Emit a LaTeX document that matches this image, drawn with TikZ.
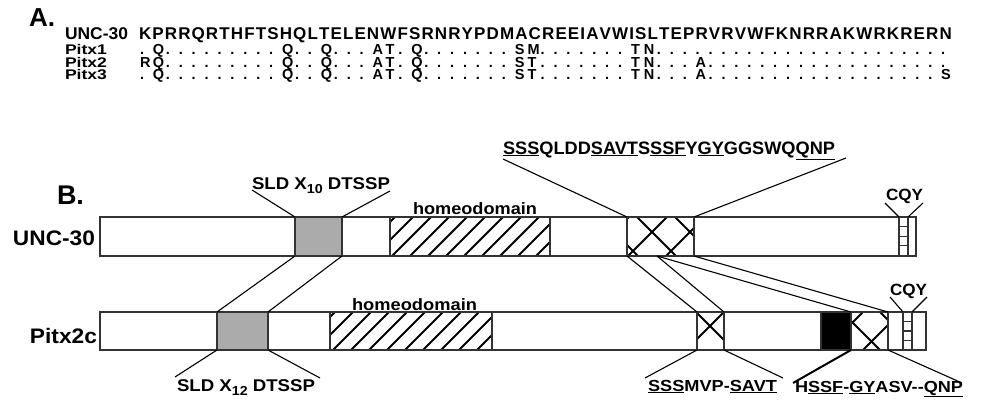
\documentclass[tikz,border=0pt]{standalone}
\usepackage{fontspec}
\setmainfont{Liberation Sans}
\newcommand\md{\bfseries}
\usepackage{graphicx}
\usetikzlibrary{calc}

\newcommand\seqtopfont{\md\fontsize{17}{17}\selectfont}
\newcommand\fitw[3]{\resizebox{#1}{\height}{\fontsize{#2}{#2}\selectfont #3}}

\ExplSyntaxOn
\box_new:N \l__sq_box
\dim_new:N \l__sq_sum_dim
\dim_new:N \l__sq_extra_dim
\tl_new:N \l__sq_top_tl
\tl_new:N \l__sq_row_tl
% top row: proportional letters, spread to a given total width
\NewDocumentCommand \seqtop { m m }
  {
    \tl_set:Nx \l__sq_top_tl {#1}
    \dim_zero:N \l__sq_sum_dim
    \int_step_inline:nn { \tl_count:N \l__sq_top_tl }
      {
        \hbox_set:Nn \l__sq_box { \seqtopfont \tl_item:Nn \l__sq_top_tl {##1} }
        \dim_add:Nn \l__sq_sum_dim { \box_wd:N \l__sq_box }
      }
    \dim_set:Nn \l__sq_extra_dim { ( #2 - \l__sq_sum_dim ) / \tl_count:N \l__sq_top_tl }
    \int_step_inline:nn { \tl_count:N \l__sq_top_tl }
      {
        \hbox_set:Nn \l__sq_box { \seqtopfont \tl_item:Nn \l__sq_top_tl {##1} }
        \hbox_to_wd:nn { \box_wd:N \l__sq_box + \l__sq_extra_dim }
          { \box_use:N \l__sq_box \hfil }
      }
  }
% lower rows: equal cells
\NewDocumentCommand \seqcells { m m }
  {
    \tl_set:Nx \l__sq_row_tl {#1}
    \int_step_inline:nn { \tl_count:N \l__sq_row_tl }
      {
        \hbox_to_wd:nn { ( #2 ) / \tl_count:N \l__sq_row_tl }
          { \tl_item:Nn \l__sq_row_tl {##1} \hfil }
      }
  }
\ExplSyntaxOff

\def\topseq{KPRRQRTHFTSHQLTELENWFSRNRYPDMACREEIAVWISLTEPRVRVWFKNRRAKWRKRERN}
\def\pone{.Q.........Q..Q...AT.Q.......SM.......TN.......................}
\def\ptwo{RQ.........Q..Q...AT.Q.......ST.......TN...A...................}
\def\pthree{.Q.........Q..Q...AT.Q.......ST.......TN...A..................S}

\tikzset{
  barbox/.style={draw=black!80, line width=1.2pt, fill=white, inner sep=0pt, outer sep=0pt, anchor=north west},
  segline/.style={draw=black!80, line width=1.2pt},
  conn/.style={line width=1.1pt, black},
  lbl/.style={inner sep=0pt, outer sep=0pt},
  hatchline/.style={line width=1.8pt, black},
  crossline/.style={line width=1.8pt, black},
  rowfont/.style={font=\md\fontsize{14.5}{14.5}\selectfont},
}

\begin{document}
\begin{tikzpicture}[x=1pt,y=-1pt]
\fill[white] (0,0) rectangle (985,404);
\useasboundingbox (0,0) rectangle (985,404);

% ---------------- Part A ----------------
\node[lbl, anchor=base west] (lblA) at (29,27) {\fontsize{26}{26}\selectfont\bfseries A.};
\node[lbl, anchor=base west] (aunc) at (65,39.5) {\fitw{63pt}{17}{\md UNC-30}};
\node[lbl, anchor=base west] (ap1) at (65,54.5) {\fitw{42pt}{14}{\md Pitx1}};
\node[lbl, anchor=base west] (ap2) at (65,67.2) {\fitw{42pt}{14}{\md Pitx2}};
\node[lbl, anchor=base west] (ap3) at (65,80) {\fitw{42pt}{14}{\md Pitx3}};
\node[lbl, anchor=base west] (s0) at (139,39.5) {\seqtopfont\seqtop{\topseq}{814pt}};
\node[lbl, rowfont, anchor=base west] (s1) at (140,54.5) {\seqcells{\pone}{814pt}};
\node[lbl, rowfont, anchor=base west] (s2) at (140,67.2) {\seqcells{\ptwo}{814pt}};
\node[lbl, rowfont, anchor=base west] (s3) at (140,80) {\seqcells{\pthree}{814pt}};

% ---------------- Part B ----------------
\node[lbl, anchor=base west] (lblB) at (57,204) {\fontsize{27}{27}\selectfont\bfseries B.};
\node[lbl, anchor=base east] (bunc) at (95,245) {\fitw{82pt}{21}{\bfseries UNC-30}};
\node[lbl, anchor=base east] (bpitx) at (97,343) {\fitw{67pt}{21}{\bfseries Pitx2c}};

% UNC-30 bar
\node[barbox, minimum width=816pt, minimum height=39pt] (ubar) at (100,217) {};
\node[barbox, fill=black!33, minimum width=47pt, minimum height=39pt] (ugray) at (295,217) {};
\node[barbox, minimum width=160pt, minimum height=39pt] (uhd) at (390,217) {};
\node[barbox, minimum width=67pt, minimum height=39pt] (ucross) at (627,217) {};
\node[barbox, minimum width=9pt, minimum height=39pt] (ucqy) at (899,217) {};

\begin{scope}
  \clip (uhd.south west) rectangle (uhd.north east);
  \foreach \k in {-3,...,10} \draw[hatchline] ({648+18*\k-256},256) -- ({648+18*\k-217},217);
\end{scope}
\draw[segline] (uhd.south west) rectangle (uhd.north east);
\begin{scope}
  \clip (ucross.south west) rectangle (ucross.north east);
  \foreach \c in {382,420,458} \draw[crossline] ({\c+200},200) -- ({\c+270},270);
  \foreach \s in {846,884,922} \draw[crossline] ({\s-200},200) -- ({\s-270},270);
\end{scope}
\draw[segline] (ucross.south west) rectangle (ucross.north east);
\foreach \f in {0.24,0.49,0.74}
  \draw[segline] ($(ucqy.north west)!\f!(ucqy.south west)$) -- ($(ucqy.north east)!\f!(ucqy.south east)$);

% Pitx2c bar
\node[barbox, minimum width=826pt, minimum height=38pt] (pbar) at (100,312) {};
\node[barbox, fill=black!33, minimum width=51pt, minimum height=38pt] (pgray) at (217,312) {};
\node[barbox, minimum width=162pt, minimum height=38pt] (phd) at (330,312) {};
\node[barbox, minimum width=27pt, minimum height=38pt] (pcross1) at (697,312) {};
\node[barbox, fill=black, minimum width=30pt, minimum height=38pt] (pblack) at (821,312) {};
\node[barbox, minimum width=37pt, minimum height=38pt] (pcross2) at (851,312) {};
\node[barbox, minimum width=9pt, minimum height=38pt] (pcqy) at (903,312) {};

\begin{scope}
  \clip (phd.south west) rectangle (phd.north east);
  \foreach \k in {-3,...,10} \draw[hatchline] ({683+18*\k-350},350) -- ({683+18*\k-312},312);
\end{scope}
\draw[segline] (phd.south west) rectangle (phd.north east);
\begin{scope}
  \clip (pcross1.south west) rectangle (pcross1.north east);
  \draw[crossline] ({384+300},300) -- ({384+360},360);
  \draw[crossline] ({1036-300},300) -- ({1036-360},360);
\end{scope}
\draw[segline] (pcross1.south west) rectangle (pcross1.north east);
\begin{scope}
  \clip (pcross2.south west) rectangle (pcross2.north east);
  \foreach \c in {530,568} \draw[crossline] ({\c+300},300) -- ({\c+360},360);
  \foreach \s in {1175,1213} \draw[crossline] ({\s-300},300) -- ({\s-360},360);
\end{scope}
\draw[segline] (pcross2.south west) rectangle (pcross2.north east);
\foreach \f in {0.25,0.5,0.75}
  \draw[segline] ($(pcqy.north west)!\f!(pcqy.south west)$) -- ($(pcqy.north east)!\f!(pcqy.south east)$);

% connectors between the bars
\coordinate (usplit) at (657,256);
\draw[conn] (ugray.south west) -- (pgray.north west);
\draw[conn] (ugray.south east) -- (pgray.north east);
\draw[conn] (ucross.south west) -- (pcross1.north west);
\draw[conn] (usplit) -- (pcross1.north east);
\draw[conn] (usplit) -- (pcross2.north west);
\draw[conn] (ucross.south east) -- (pcross2.north east);

% labels above UNC-30
\node[lbl, anchor=base west] (usld) at (252,189) {\fitw{138pt}{17}{\md SLD X\raisebox{-4pt}{\fontsize{13}{13}\selectfont 10} DTSSP}};
\coordinate (uslda) at (252,190);
\coordinate (usldb) at (390,191);
\draw[conn] (uslda) -- (ugray.north west);
\draw[conn] (usldb) -- (ugray.north east);

\node[lbl, anchor=base west] (uhdl) at (413,214) {\fitw{124pt}{16.5}{\md homeodomain}};

\node[lbl, anchor=base west] (useq) at (503,154) {\fitw{332pt}{18}{\md \underline{SSS}QLDD\underline{SAVT}S\underline{SSF}Y\underline{GY}GGSWQ\underline{QNP}}};
\coordinate (useqa) at (503,159);
\coordinate (useqb) at (846,158);
\draw[conn] (useqa) -- (ucross.north west);
\draw[conn] (useqb) -- (ucross.north east);

\node[lbl, anchor=base west] (ucqyl) at (886,200) {\fitw{37pt}{16.3}{\md CQY}};
\coordinate (ucqya) at (885,203);
\coordinate (ucqyb) at (923,203);
\draw[conn] (ucqya) -- (ucqy.north west);
\draw[conn] (ucqyb) -- (ucqy.north east);

% labels around Pitx2c
\node[lbl, anchor=base west] (phdl) at (352,310) {\fitw{125pt}{16.5}{\md homeodomain}};

\node[lbl, anchor=base west] (pcqyl) at (890,295) {\fitw{37pt}{16.3}{\md CQY}};
\coordinate (pcqya) at (890,297);
\coordinate (pcqyb) at (927,297);
\draw[conn] (pcqya) -- (pcqy.north west);
\draw[conn] (pcqyb) -- (pcqy.north east);

\node[lbl, anchor=base west] (psld) at (177,391) {\fitw{138pt}{17}{\md SLD X\raisebox{-4pt}{\fontsize{13}{13}\selectfont 12} DTSSP}};
\coordinate (pslda) at (175,377);
\coordinate (psldb) at (320,378);
\draw[conn] (pgray.south west) -- (pslda);
\draw[conn] (pgray.south east) -- (psldb);

\node[lbl, anchor=base west] (pc1l) at (648,391) {\fitw{129pt}{16}{\md \underline{SSS}MVP-\underline{SAVT}}};
\coordinate (pc1a) at (645,378);
\coordinate (pc1b) at (783,378);
\draw[conn] (pcross1.south west) -- (pc1a);
\draw[conn] (pcross1.south east) -- (pc1b);

\node[lbl, anchor=base west] (pc2l) at (795,392) {\fitw{168pt}{16}{\md H\underline{SSF}-\underline{GY}ASV-{}-\underline{QNP}}};
\coordinate (pc2a) at (793,383);
\coordinate (pc2b) at (962,383);
\draw[conn, line width=2pt] (pcross2.south west) -- (pc2a);
\draw[conn] (pcross2.south east) -- (pc2b);
\end{tikzpicture}
\end{document}
